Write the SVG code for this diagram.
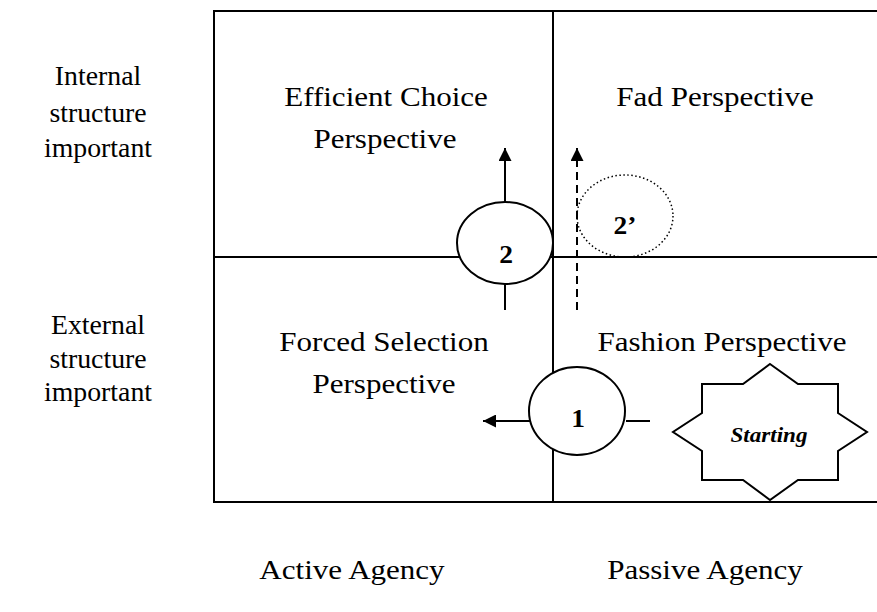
<svg xmlns="http://www.w3.org/2000/svg" width="877" height="612" viewBox="0 0 877 612">
<style>
text{font-family:'Liberation Serif','Times New Roman',serif;fill:#000;text-anchor:middle}
.t{font-size:27px}
.n{font-size:25px;font-weight:bold}
.s{font-size:21px;font-weight:bold;font-style:italic}
.ln{stroke:#000;stroke-width:2;fill:none}
.sh{stroke:#000;stroke-width:2;fill:#fff}
</style>
<defs>
<marker id="ah" viewBox="0 0 10 10" refX="10" refY="5" markerWidth="6.5" markerHeight="6.5" markerUnits="strokeWidth" orient="auto">
<path d="M0,0 L10,5 L0,10 z" fill="#000"/>
</marker>
</defs>
<rect width="877" height="612" fill="#fff"/>
<g id="grid">
<rect class="ln" x="214" y="11" width="680" height="491"/>
<line class="ln" x1="553" y1="11" x2="553" y2="502"/>
<line class="ln" x1="214" y1="257" x2="890" y2="257"/>
</g>
<g id="label-internal">
<text class="t" transform="translate(98,85) scale(1.03,1)">Internal</text>
<text class="t" transform="translate(98,122) scale(1.03,1)">structure</text>
<text class="t" transform="translate(98,157) scale(1.03,1)">important</text>
</g>
<g id="label-external">
<text class="t" transform="translate(98,334) scale(1.03,1)">External</text>
<text class="t" transform="translate(98,368) scale(1.03,1)">structure</text>
<text class="t" transform="translate(98,401) scale(1.03,1)">important</text>
</g>
<g id="q-efficient">
<text class="t" transform="translate(386,106) scale(1.15,1)">Efficient Choice</text>
<text class="t" transform="translate(385,148) scale(1.15,1)">Perspective</text>
</g>
<g id="q-fad">
<text class="t" transform="translate(715,106) scale(1.15,1)">Fad Perspective</text>
</g>
<g id="q-forced">
<text class="t" transform="translate(384,351) scale(1.15,1)">Forced Selection</text>
<text class="t" transform="translate(384,393) scale(1.15,1)">Perspective</text>
</g>
<g id="q-fashion">
<text class="t" transform="translate(722,351) scale(1.15,1)">Fashion Perspective</text>
</g>
<g id="label-active">
<text class="t" transform="translate(352,579) scale(1.15,1)">Active Agency</text>
</g>
<g id="label-passive">
<text class="t" transform="translate(705,579) scale(1.15,1)">Passive Agency</text>
</g>
<g id="connectors">
<line class="ln" x1="505" y1="202" x2="505" y2="148" marker-end="url(#ah)"/>
<line class="ln" x1="505" y1="284" x2="505" y2="310"/>
<line class="ln" x1="577" y1="310" x2="577" y2="148" stroke-dasharray="8,5" marker-end="url(#ah)"/>
<line class="ln" x1="530" y1="421" x2="483" y2="421" marker-end="url(#ah)"/>
<line class="ln" x1="626" y1="421" x2="650" y2="421"/>
</g>
<g id="node-2">
<ellipse class="sh" cx="505" cy="243" rx="48" ry="41"/>
<text class="n" transform="translate(506,263) scale(1.1,1)">2</text>
</g>
<g id="node-2prime">
<ellipse cx="625" cy="216" rx="48" ry="41" fill="none" stroke="#000" stroke-width="1.5" stroke-dasharray="1.5,2.5"/>
<text class="n" transform="translate(625,234) scale(1.1,1)">2’</text>
</g>
<g id="node-1">
<ellipse class="sh" cx="577" cy="411" rx="48" ry="44"/>
<text class="n" transform="translate(578,427) scale(1.1,1)">1</text>
</g>
<g id="node-starting">
<polygon class="sh" points="770,364 798,384 838,384 838,413 867,432 838,451 838,480 798,480 770,500 743,480 702,480 702,451 673,432 702,413 702,384 743,384"/>
<text class="s" transform="translate(769,442) scale(1.1,1)">Starting</text>
</g>
</svg>
